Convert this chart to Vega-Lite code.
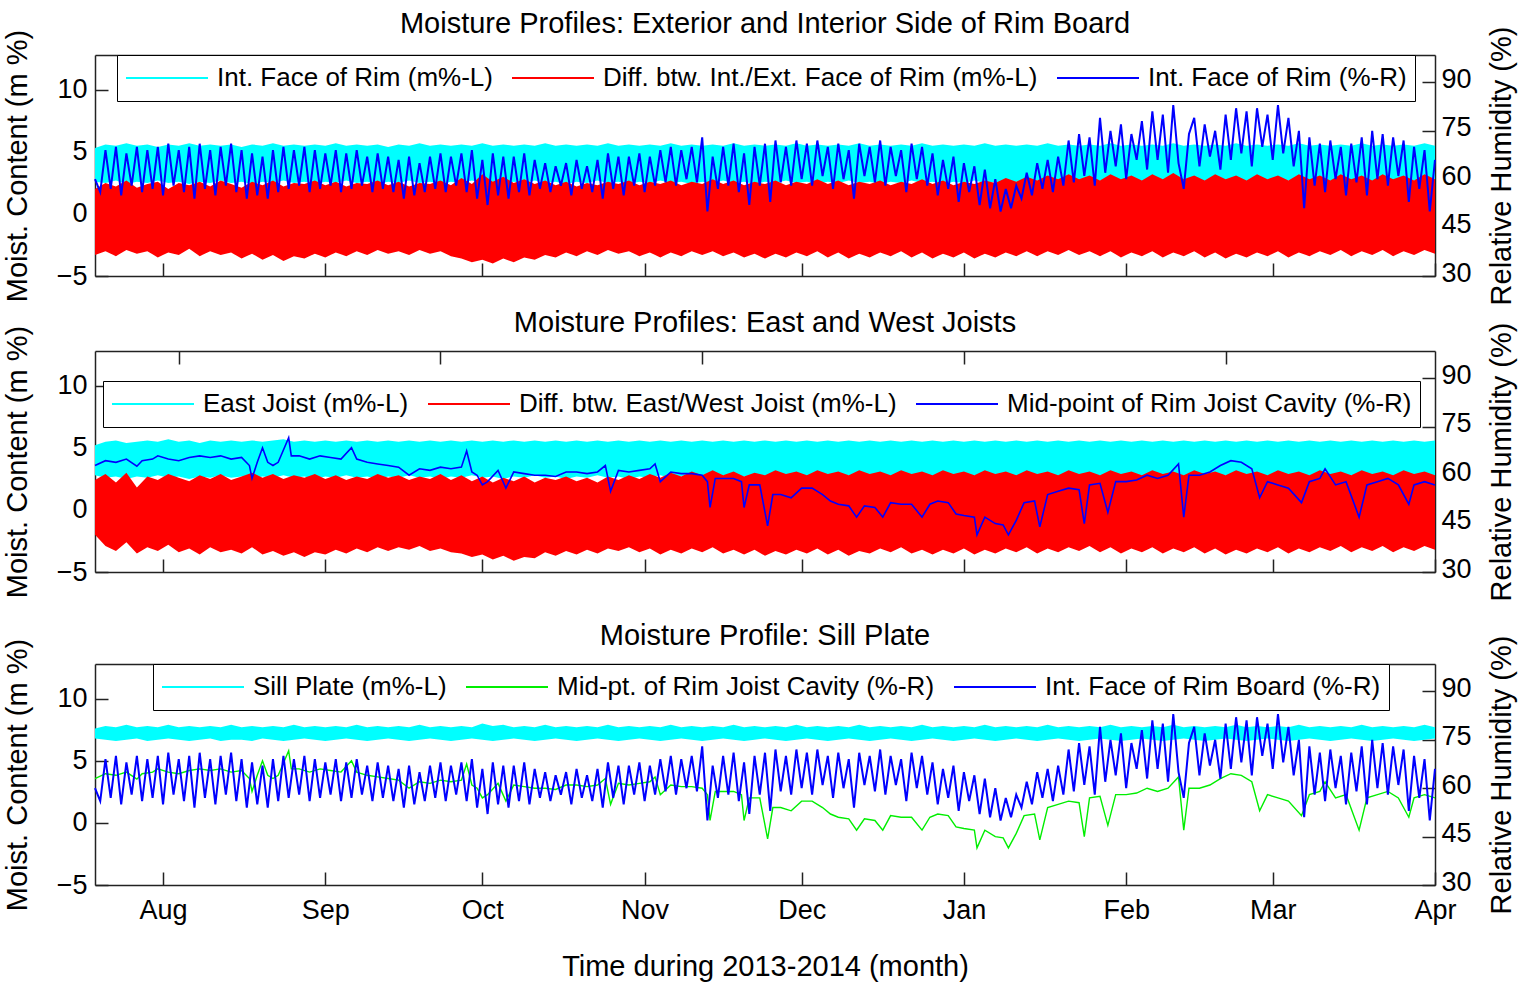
{
"$schema": "https://vega.github.io/schema/vega-lite/v6.json",
"padding": {"left": 3, "top": 10, "right": 2, "bottom": 5},
"background": "white",
"config": {
  "font": "Liberation Sans",
  "view": {"stroke": null},
  "axis": {"labelFontSize": 27, "titleFontSize": 29, "titleFontWeight": "normal", "labelColor": "#000", "titleColor": "#000", "domainColor": "#222", "tickColor": "#222", "domainWidth": 1.5, "tickWidth": 1.5, "tickSize": -13, "grid": false, "labelFlush": false, "labelOverlap": false},
  "title": {"fontSize": 29, "fontWeight": "normal", "color": "#000", "anchor": "middle", "frame": "group"},
  "legend": {"orient": "none", "direction": "horizontal", "columns": 3, "symbolType": "stroke", "symbolSize": 6724, "symbolStrokeWidth": 2, "clipHeight": 30, "labelFontSize": 26, "labelColor": "#000", "labelOffset": 8, "columnPadding": 18, "padding": 8, "strokeColor": "#000", "fillColor": "#fff", "labelLimit": 0}
},
"datasets": {
"band": [
{"d":0,"a":2.6,"b":5.3,"c":-3.3,"e":2.0,"f":2.8,"g":5.2,"h":-2.0,"i":2.4,"j":6.8,"k":7.6},
{"d":2,"a":2.5,"b":5.6,"c":-3.0,"e":2.5,"f":2.6,"g":5.5,"h":-2.9,"i":2.9,"j":6.7,"k":7.8},
{"d":4,"a":2.7,"b":5.5,"c":-3.4,"e":2.2,"f":2.7,"g":5.6,"h":-3.3,"i":2.2,"j":6.6,"k":7.7},
{"d":6,"a":2.4,"b":5.7,"c":-2.9,"e":2.7,"f":2.5,"g":5.4,"h":-2.6,"i":3.0,"j":6.7,"k":7.9},
{"d":8,"a":2.6,"b":5.5,"c":-3.2,"e":2.1,"f":2.7,"g":5.5,"h":-3.5,"i":1.8,"j":6.8,"k":7.7},
{"d":10,"a":2.5,"b":5.6,"c":-3.0,"e":2.4,"f":2.6,"g":5.6,"h":-3.0,"i":2.7,"j":6.6,"k":7.8},
{"d":12,"a":2.7,"b":5.4,"c":-3.5,"e":2.6,"f":2.8,"g":5.5,"h":-3.3,"i":2.4,"j":6.7,"k":7.7},
{"d":14,"a":2.5,"b":5.6,"c":-3.1,"e":2.0,"f":2.6,"g":5.7,"h":-2.8,"i":2.9,"j":6.8,"k":7.9},
{"d":16,"a":2.6,"b":5.5,"c":-3.3,"e":2.5,"f":2.7,"g":5.5,"h":-3.4,"i":2.6,"j":6.7,"k":7.7},
{"d":18,"a":2.4,"b":5.7,"c":-2.8,"e":2.3,"f":2.5,"g":5.6,"h":-3.1,"i":2.3,"j":6.6,"k":7.8},
{"d":20,"a":2.6,"b":5.5,"c":-3.4,"e":2.6,"f":2.7,"g":5.4,"h":-3.6,"i":2.8,"j":6.7,"k":7.7},
{"d":22,"a":2.5,"b":5.6,"c":-3.0,"e":2.2,"f":2.6,"g":5.6,"h":-3.0,"i":2.5,"j":6.8,"k":7.8},
{"d":24,"a":2.7,"b":5.5,"c":-3.3,"e":2.7,"f":2.8,"g":5.5,"h":-3.4,"i":2.9,"j":6.6,"k":7.7},
{"d":26,"a":2.5,"b":5.6,"c":-3.1,"e":2.4,"f":2.6,"g":5.6,"h":-3.2,"i":2.4,"j":6.7,"k":7.9},
{"d":28,"a":2.6,"b":5.4,"c":-3.6,"e":2.1,"f":2.7,"g":5.5,"h":-3.5,"i":2.7,"j":6.7,"k":7.7},
{"d":30,"a":2.4,"b":5.6,"c":-3.2,"e":2.6,"f":2.5,"g":5.6,"h":-3.0,"i":3.0,"j":6.6,"k":7.8},
{"d":32,"a":2.6,"b":5.5,"c":-3.7,"e":2.3,"f":2.7,"g":5.5,"h":-3.6,"i":2.6,"j":6.8,"k":7.7},
{"d":34,"a":2.5,"b":5.7,"c":-3.3,"e":2.7,"f":2.6,"g":5.6,"h":-3.3,"i":2.9,"j":6.7,"k":7.8},
{"d":36,"a":2.7,"b":5.5,"c":-3.8,"e":2.2,"f":2.8,"g":5.7,"h":-3.7,"i":2.5,"j":6.6,"k":7.7},
{"d":38,"a":2.5,"b":5.6,"c":-3.4,"e":2.5,"f":2.6,"g":5.5,"h":-3.4,"i":2.8,"j":6.7,"k":7.9},
{"d":40,"a":2.6,"b":5.5,"c":-3.6,"e":2.4,"f":2.7,"g":5.6,"h":-3.8,"i":2.6,"j":6.8,"k":7.7},
{"d":42,"a":2.4,"b":5.6,"c":-3.2,"e":2.7,"f":2.5,"g":5.5,"h":-3.4,"i":2.9,"j":6.7,"k":7.8},
{"d":44,"a":2.6,"b":5.5,"c":-3.5,"e":2.3,"f":2.7,"g":5.6,"h":-3.6,"i":2.5,"j":6.6,"k":7.7},
{"d":46,"a":2.5,"b":5.7,"c":-3.1,"e":2.6,"f":2.6,"g":5.5,"h":-3.2,"i":2.8,"j":6.7,"k":7.8},
{"d":48,"a":2.7,"b":5.5,"c":-3.4,"e":2.2,"f":2.8,"g":5.6,"h":-3.5,"i":2.4,"j":6.8,"k":7.7},
{"d":50,"a":2.5,"b":5.6,"c":-3.0,"e":2.5,"f":2.6,"g":5.5,"h":-3.1,"i":2.7,"j":6.7,"k":7.9},
{"d":52,"a":2.6,"b":5.5,"c":-3.3,"e":2.4,"f":2.7,"g":5.6,"h":-3.4,"i":2.5,"j":6.6,"k":7.7},
{"d":54,"a":2.4,"b":5.6,"c":-2.9,"e":2.7,"f":2.5,"g":5.5,"h":-3.0,"i":2.9,"j":6.7,"k":7.8},
{"d":56,"a":2.6,"b":5.4,"c":-3.2,"e":2.3,"f":2.7,"g":5.6,"h":-3.3,"i":2.6,"j":6.8,"k":7.7},
{"d":58,"a":2.5,"b":5.6,"c":-3.0,"e":2.6,"f":2.6,"g":5.5,"h":-3.0,"i":2.8,"j":6.7,"k":7.8},
{"d":60,"a":2.7,"b":5.5,"c":-3.3,"e":2.2,"f":2.8,"g":5.6,"h":-3.2,"i":2.4,"j":6.6,"k":7.7},
{"d":62,"a":2.5,"b":5.7,"c":-2.9,"e":2.5,"f":2.6,"g":5.5,"h":-2.9,"i":2.7,"j":6.7,"k":7.9},
{"d":64,"a":2.6,"b":5.5,"c":-3.2,"e":2.4,"f":2.7,"g":5.6,"h":-3.3,"i":2.5,"j":6.8,"k":7.7},
{"d":66,"a":2.4,"b":5.6,"c":-3.0,"e":2.7,"f":2.5,"g":5.5,"h":-3.1,"i":2.9,"j":6.7,"k":7.8},
{"d":68,"a":2.6,"b":5.5,"c":-3.4,"e":2.3,"f":2.7,"g":5.6,"h":-3.4,"i":2.4,"j":6.6,"k":7.7},
{"d":70,"a":2.5,"b":5.6,"c":-3.6,"e":2.9,"f":2.6,"g":5.5,"h":-3.5,"i":2.8,"j":6.7,"k":7.8},
{"d":72,"a":2.7,"b":5.5,"c":-3.9,"e":2.4,"f":2.8,"g":5.6,"h":-3.8,"i":2.3,"j":6.8,"k":7.7},
{"d":74,"a":2.5,"b":5.7,"c":-3.7,"e":3.2,"f":2.6,"g":5.5,"h":-3.6,"i":2.7,"j":6.7,"k":8.0},
{"d":76,"a":2.6,"b":5.5,"c":-4.0,"e":2.6,"f":2.7,"g":5.6,"h":-4.0,"i":2.2,"j":6.6,"k":7.8},
{"d":78,"a":2.4,"b":5.6,"c":-3.6,"e":3.0,"f":2.5,"g":5.5,"h":-3.7,"i":2.6,"j":6.7,"k":7.9},
{"d":80,"a":2.6,"b":5.5,"c":-3.9,"e":2.5,"f":2.7,"g":5.6,"h":-4.1,"i":2.3,"j":6.8,"k":7.7},
{"d":82,"a":2.5,"b":5.6,"c":-3.5,"e":2.8,"f":2.6,"g":5.5,"h":-3.8,"i":2.7,"j":6.7,"k":7.8},
{"d":84,"a":2.7,"b":5.5,"c":-3.7,"e":2.4,"f":2.8,"g":5.6,"h":-3.9,"i":2.2,"j":6.6,"k":7.7},
{"d":86,"a":2.5,"b":5.7,"c":-3.3,"e":2.7,"f":2.6,"g":5.5,"h":-3.4,"i":2.6,"j":6.7,"k":7.9},
{"d":88,"a":2.6,"b":5.5,"c":-3.5,"e":2.3,"f":2.7,"g":5.6,"h":-3.7,"i":2.4,"j":6.8,"k":7.7},
{"d":90,"a":2.4,"b":5.6,"c":-3.1,"e":2.6,"f":2.5,"g":5.5,"h":-3.3,"i":2.7,"j":6.7,"k":7.8},
{"d":92,"a":2.6,"b":5.5,"c":-3.4,"e":2.2,"f":2.7,"g":5.6,"h":-3.6,"i":2.3,"j":6.6,"k":7.7},
{"d":94,"a":2.5,"b":5.6,"c":-3.0,"e":2.5,"f":2.6,"g":5.5,"h":-3.2,"i":2.6,"j":6.7,"k":7.8},
{"d":96,"a":2.7,"b":5.5,"c":-3.3,"e":2.3,"f":2.8,"g":5.6,"h":-3.5,"i":2.2,"j":6.8,"k":7.7},
{"d":98,"a":2.5,"b":5.7,"c":-2.9,"e":2.6,"f":2.6,"g":5.5,"h":-3.1,"i":2.7,"j":6.7,"k":7.9},
{"d":100,"a":2.6,"b":5.5,"c":-3.2,"e":2.4,"f":2.7,"g":5.6,"h":-3.3,"i":2.4,"j":6.6,"k":7.7},
{"d":102,"a":2.4,"b":5.6,"c":-3.0,"e":2.7,"f":2.5,"g":5.5,"h":-3.0,"i":2.8,"j":6.7,"k":7.8},
{"d":104,"a":2.6,"b":5.5,"c":-3.4,"e":2.3,"f":2.7,"g":5.6,"h":-3.4,"i":2.5,"j":6.8,"k":7.7},
{"d":106,"a":2.5,"b":5.6,"c":-3.1,"e":2.6,"f":2.6,"g":5.5,"h":-3.1,"i":2.9,"j":6.7,"k":7.8},
{"d":108,"a":2.7,"b":5.5,"c":-3.5,"e":2.4,"f":2.8,"g":5.6,"h":-3.6,"i":2.6,"j":6.6,"k":7.7},
{"d":110,"a":2.5,"b":5.7,"c":-3.1,"e":2.7,"f":2.6,"g":5.5,"h":-3.2,"i":3.0,"j":6.7,"k":7.9},
{"d":112,"a":2.6,"b":5.5,"c":-3.4,"e":2.3,"f":2.7,"g":5.6,"h":-3.5,"i":2.7,"j":6.8,"k":7.7},
{"d":114,"a":2.4,"b":5.6,"c":-3.0,"e":2.6,"f":2.5,"g":5.5,"h":-3.1,"i":3.1,"j":6.7,"k":7.8},
{"d":116,"a":2.6,"b":5.5,"c":-3.3,"e":2.4,"f":2.7,"g":5.6,"h":-3.4,"i":2.8,"j":6.6,"k":7.7},
{"d":118,"a":2.5,"b":5.6,"c":-3.0,"e":2.8,"f":2.6,"g":5.5,"h":-3.0,"i":3.2,"j":6.7,"k":7.8},
{"d":120,"a":2.7,"b":5.5,"c":-3.4,"e":2.4,"f":2.8,"g":5.6,"h":-3.5,"i":2.8,"j":6.8,"k":7.7},
{"d":122,"a":2.5,"b":5.7,"c":-3.1,"e":2.7,"f":2.6,"g":5.5,"h":-3.2,"i":3.1,"j":6.7,"k":7.9},
{"d":124,"a":2.6,"b":5.5,"c":-3.5,"e":2.3,"f":2.7,"g":5.6,"h":-3.6,"i":2.7,"j":6.6,"k":7.7},
{"d":126,"a":2.4,"b":5.6,"c":-3.2,"e":2.6,"f":2.5,"g":5.5,"h":-3.2,"i":3.0,"j":6.7,"k":7.8},
{"d":128,"a":2.6,"b":5.5,"c":-3.6,"e":2.4,"f":2.7,"g":5.6,"h":-3.7,"i":2.8,"j":6.8,"k":7.7},
{"d":130,"a":2.5,"b":5.6,"c":-3.2,"e":2.7,"f":2.6,"g":5.5,"h":-3.3,"i":3.2,"j":6.7,"k":7.8},
{"d":132,"a":2.7,"b":5.5,"c":-3.5,"e":2.3,"f":2.8,"g":5.6,"h":-3.6,"i":2.9,"j":6.6,"k":7.7},
{"d":134,"a":2.5,"b":5.7,"c":-3.1,"e":2.6,"f":2.6,"g":5.5,"h":-3.2,"i":3.1,"j":6.7,"k":7.9},
{"d":136,"a":2.6,"b":5.5,"c":-3.4,"e":2.4,"f":2.7,"g":5.6,"h":-3.5,"i":2.8,"j":6.8,"k":7.7},
{"d":138,"a":2.4,"b":5.6,"c":-3.0,"e":2.8,"f":2.5,"g":5.5,"h":-3.1,"i":3.2,"j":6.7,"k":7.8},
{"d":140,"a":2.6,"b":5.5,"c":-3.5,"e":2.4,"f":2.7,"g":5.6,"h":-3.6,"i":2.9,"j":6.6,"k":7.7},
{"d":142,"a":2.5,"b":5.6,"c":-3.1,"e":2.7,"f":2.6,"g":5.5,"h":-3.2,"i":3.1,"j":6.7,"k":7.8},
{"d":144,"a":2.7,"b":5.5,"c":-3.6,"e":2.3,"f":2.8,"g":5.6,"h":-3.7,"i":2.8,"j":6.8,"k":7.7},
{"d":146,"a":2.5,"b":5.7,"c":-3.2,"e":2.6,"f":2.6,"g":5.5,"h":-3.3,"i":3.2,"j":6.7,"k":7.9},
{"d":148,"a":2.6,"b":5.5,"c":-3.5,"e":2.4,"f":2.7,"g":5.6,"h":-3.5,"i":2.9,"j":6.6,"k":7.7},
{"d":150,"a":2.4,"b":5.6,"c":-3.1,"e":2.7,"f":2.5,"g":5.5,"h":-3.1,"i":3.1,"j":6.7,"k":7.8},
{"d":152,"a":2.6,"b":5.5,"c":-3.4,"e":2.3,"f":2.7,"g":5.6,"h":-3.4,"i":2.8,"j":6.8,"k":7.7},
{"d":154,"a":2.5,"b":5.6,"c":-3.0,"e":2.6,"f":2.6,"g":5.5,"h":-3.0,"i":3.2,"j":6.7,"k":7.8},
{"d":156,"a":2.7,"b":5.5,"c":-3.5,"e":2.4,"f":2.8,"g":5.6,"h":-3.5,"i":2.9,"j":6.6,"k":7.7},
{"d":158,"a":2.5,"b":5.7,"c":-3.1,"e":2.8,"f":2.6,"g":5.5,"h":-3.2,"i":3.1,"j":6.7,"k":7.9},
{"d":160,"a":2.6,"b":5.5,"c":-3.6,"e":2.4,"f":2.7,"g":5.6,"h":-3.6,"i":2.8,"j":6.8,"k":7.7},
{"d":162,"a":2.4,"b":5.6,"c":-3.2,"e":2.7,"f":2.5,"g":5.5,"h":-3.2,"i":3.2,"j":6.7,"k":7.8},
{"d":164,"a":2.6,"b":5.5,"c":-3.5,"e":2.3,"f":2.7,"g":5.6,"h":-3.5,"i":2.9,"j":6.6,"k":7.7},
{"d":166,"a":2.5,"b":5.6,"c":-3.1,"e":2.6,"f":2.6,"g":5.5,"h":-3.1,"i":3.1,"j":6.7,"k":7.8},
{"d":168,"a":2.7,"b":5.5,"c":-3.6,"e":2.4,"f":2.8,"g":5.6,"h":-3.6,"i":2.8,"j":6.8,"k":7.7},
{"d":170,"a":2.5,"b":5.7,"c":-3.2,"e":2.7,"f":2.6,"g":5.5,"h":-3.2,"i":3.2,"j":6.7,"k":7.9},
{"d":172,"a":2.6,"b":5.5,"c":-3.5,"e":2.5,"f":2.7,"g":5.6,"h":-3.5,"i":2.9,"j":6.6,"k":7.7},
{"d":174,"a":2.4,"b":5.6,"c":-3.1,"e":2.9,"f":2.5,"g":5.5,"h":-3.1,"i":3.1,"j":6.7,"k":7.8},
{"d":176,"a":2.6,"b":5.5,"c":-3.4,"e":2.6,"f":2.7,"g":5.6,"h":-3.4,"i":2.8,"j":6.8,"k":7.7},
{"d":178,"a":2.5,"b":5.6,"c":-3.0,"e":3.0,"f":2.6,"g":5.5,"h":-3.0,"i":3.2,"j":6.7,"k":7.8},
{"d":180,"a":2.7,"b":5.5,"c":-3.4,"e":2.7,"f":2.8,"g":5.6,"h":-3.5,"i":2.9,"j":6.6,"k":7.7},
{"d":182,"a":2.5,"b":5.7,"c":-3.0,"e":3.1,"f":2.6,"g":5.5,"h":-3.1,"i":3.1,"j":6.7,"k":7.9},
{"d":184,"a":2.6,"b":5.5,"c":-3.3,"e":2.8,"f":2.7,"g":5.6,"h":-3.4,"i":2.8,"j":6.8,"k":7.7},
{"d":186,"a":2.4,"b":5.6,"c":-2.9,"e":3.2,"f":2.5,"g":5.5,"h":-3.0,"i":3.2,"j":6.7,"k":7.8},
{"d":188,"a":2.6,"b":5.5,"c":-3.3,"e":2.8,"f":2.7,"g":5.6,"h":-3.3,"i":2.9,"j":6.6,"k":7.7},
{"d":190,"a":2.5,"b":5.6,"c":-3.0,"e":3.1,"f":2.6,"g":5.5,"h":-2.9,"i":3.1,"j":6.7,"k":7.8},
{"d":192,"a":2.7,"b":5.5,"c":-3.4,"e":2.7,"f":2.8,"g":5.6,"h":-3.4,"i":2.8,"j":6.8,"k":7.7},
{"d":194,"a":2.5,"b":5.7,"c":-3.0,"e":3.2,"f":2.6,"g":5.5,"h":-3.0,"i":3.2,"j":6.7,"k":7.9},
{"d":196,"a":2.6,"b":5.5,"c":-3.5,"e":2.8,"f":2.7,"g":5.6,"h":-3.5,"i":2.9,"j":6.6,"k":7.7},
{"d":198,"a":2.4,"b":5.6,"c":-3.1,"e":3.1,"f":2.5,"g":5.5,"h":-3.1,"i":3.1,"j":6.7,"k":7.8},
{"d":200,"a":2.6,"b":5.5,"c":-3.4,"e":2.7,"f":2.7,"g":5.6,"h":-3.4,"i":2.8,"j":6.8,"k":7.7},
{"d":202,"a":2.5,"b":5.6,"c":-3.0,"e":3.2,"f":2.6,"g":5.5,"h":-3.0,"i":3.2,"j":6.7,"k":7.8},
{"d":204,"a":2.7,"b":5.5,"c":-3.5,"e":2.8,"f":2.8,"g":5.6,"h":-3.5,"i":2.9,"j":6.6,"k":7.7},
{"d":206,"a":2.5,"b":5.7,"c":-3.1,"e":3.3,"f":2.6,"g":5.5,"h":-3.1,"i":3.1,"j":6.7,"k":7.9},
{"d":208,"a":2.6,"b":5.5,"c":-3.4,"e":2.8,"f":2.7,"g":5.6,"h":-3.4,"i":2.8,"j":6.8,"k":7.7},
{"d":210,"a":2.4,"b":5.6,"c":-3.0,"e":3.1,"f":2.5,"g":5.5,"h":-3.0,"i":3.2,"j":6.7,"k":7.8},
{"d":212,"a":2.6,"b":5.5,"c":-3.5,"e":2.7,"f":2.7,"g":5.6,"h":-3.5,"i":2.9,"j":6.6,"k":7.7},
{"d":214,"a":2.5,"b":5.6,"c":-3.1,"e":3.2,"f":2.6,"g":5.5,"h":-3.1,"i":3.1,"j":6.7,"k":7.8},
{"d":216,"a":2.7,"b":5.5,"c":-3.6,"e":2.8,"f":2.8,"g":5.6,"h":-3.6,"i":2.8,"j":6.8,"k":7.7},
{"d":218,"a":2.5,"b":5.7,"c":-3.2,"e":3.1,"f":2.6,"g":5.5,"h":-3.2,"i":3.2,"j":6.7,"k":7.9},
{"d":220,"a":2.6,"b":5.5,"c":-3.5,"e":2.7,"f":2.7,"g":5.6,"h":-3.5,"i":2.9,"j":6.6,"k":7.7},
{"d":222,"a":2.4,"b":5.6,"c":-3.1,"e":3.2,"f":2.5,"g":5.5,"h":-3.1,"i":3.1,"j":6.7,"k":7.8},
{"d":224,"a":2.6,"b":5.5,"c":-3.4,"e":2.8,"f":2.7,"g":5.6,"h":-3.4,"i":2.8,"j":6.8,"k":7.7},
{"d":226,"a":2.5,"b":5.6,"c":-3.0,"e":3.1,"f":2.6,"g":5.5,"h":-3.0,"i":3.2,"j":6.7,"k":7.8},
{"d":228,"a":2.7,"b":5.5,"c":-3.5,"e":2.7,"f":2.8,"g":5.6,"h":-3.5,"i":2.9,"j":6.6,"k":7.7},
{"d":230,"a":2.5,"b":5.7,"c":-3.1,"e":3.2,"f":2.6,"g":5.5,"h":-3.1,"i":3.1,"j":6.7,"k":7.9},
{"d":232,"a":2.6,"b":5.5,"c":-3.4,"e":2.8,"f":2.7,"g":5.6,"h":-3.4,"i":2.8,"j":6.8,"k":7.7},
{"d":234,"a":2.4,"b":5.6,"c":-3.0,"e":3.1,"f":2.5,"g":5.5,"h":-3.0,"i":3.2,"j":6.7,"k":7.8},
{"d":236,"a":2.6,"b":5.5,"c":-3.3,"e":2.7,"f":2.7,"g":5.6,"h":-3.3,"i":2.9,"j":6.6,"k":7.7},
{"d":238,"a":2.5,"b":5.6,"c":-2.9,"e":3.2,"f":2.6,"g":5.5,"h":-2.9,"i":3.1,"j":6.7,"k":7.8},
{"d":240,"a":2.7,"b":5.5,"c":-3.4,"e":2.8,"f":2.8,"g":5.6,"h":-3.4,"i":2.8,"j":6.8,"k":7.7},
{"d":242,"a":2.5,"b":5.7,"c":-3.0,"e":3.1,"f":2.6,"g":5.5,"h":-3.0,"i":3.2,"j":6.7,"k":7.9},
{"d":244,"a":2.6,"b":5.5,"c":-3.3,"e":2.7,"f":2.7,"g":5.6,"h":-3.3,"i":2.9,"j":6.6,"k":7.7},
{"d":246,"a":2.4,"b":5.6,"c":-2.9,"e":3.2,"f":2.5,"g":5.5,"h":-2.9,"i":3.1,"j":6.7,"k":7.8},
{"d":248,"a":2.6,"b":5.5,"c":-3.4,"e":2.8,"f":2.7,"g":5.6,"h":-3.4,"i":2.8,"j":6.8,"k":7.7},
{"d":250,"a":2.5,"b":5.6,"c":-3.0,"e":3.1,"f":2.6,"g":5.5,"h":-3.0,"i":3.2,"j":6.7,"k":7.8},
{"d":252,"a":2.7,"b":5.5,"c":-3.3,"e":2.7,"f":2.8,"g":5.6,"h":-3.3,"i":2.9,"j":6.6,"k":7.7},
{"d":254,"a":2.5,"b":5.7,"c":-2.9,"e":3.2,"f":2.6,"g":5.5,"h":-2.9,"i":3.1,"j":6.7,"k":7.9},
{"d":256,"a":2.6,"b":5.5,"c":-3.2,"e":2.8,"f":2.7,"g":5.6,"h":-3.2,"i":2.8,"j":6.8,"k":7.7}
],
"rim": [
{"d":0,"v":60},{"d":1,"v":56},{"d":2,"v":69},{"d":3,"v":57},{"d":4,"v":70},{"d":5,"v":55},{"d":6,"v":68},{"d":7,"v":58},{"d":8,"v":70},{"d":9,"v":56},
{"d":10,"v":69},{"d":11,"v":57},{"d":12,"v":70},{"d":13,"v":55},{"d":14,"v":71},{"d":15,"v":58},{"d":16,"v":69},{"d":17,"v":56},{"d":18,"v":70},{"d":19,"v":54},
{"d":20,"v":71},{"d":21,"v":57},{"d":22,"v":69},{"d":23,"v":55},{"d":24,"v":70},{"d":25,"v":58},{"d":26,"v":71},{"d":27,"v":56},{"d":28,"v":69},{"d":29,"v":54},
{"d":30,"v":68},{"d":31,"v":55},{"d":32,"v":67},{"d":33,"v":54},{"d":34,"v":69},{"d":35,"v":56},{"d":36,"v":70},{"d":37,"v":57},{"d":38,"v":69},{"d":39,"v":58},
{"d":40,"v":70},{"d":41,"v":56},{"d":42,"v":69},{"d":43,"v":57},{"d":44,"v":68},{"d":45,"v":58},{"d":46,"v":69},{"d":47,"v":56},{"d":48,"v":68},{"d":49,"v":57},
{"d":50,"v":69},{"d":51,"v":58},{"d":52,"v":67},{"d":53,"v":56},{"d":54,"v":68},{"d":55,"v":57},{"d":56,"v":67},{"d":57,"v":56},{"d":58,"v":66},{"d":59,"v":54},
{"d":60,"v":67},{"d":61,"v":55},{"d":62,"v":65},{"d":63,"v":56},{"d":64,"v":67},{"d":65,"v":57},{"d":66,"v":68},{"d":67,"v":56},{"d":68,"v":67},{"d":69,"v":58},
{"d":70,"v":68},{"d":71,"v":56},{"d":72,"v":69},{"d":73,"v":54},{"d":74,"v":66},{"d":75,"v":52},{"d":76,"v":68},{"d":77,"v":55},{"d":78,"v":67},{"d":79,"v":54},
{"d":80,"v":67},{"d":81,"v":56},{"d":82,"v":68},{"d":83,"v":55},{"d":84,"v":66},{"d":85,"v":57},{"d":86,"v":65},{"d":87,"v":56},{"d":88,"v":64},{"d":89,"v":58},
{"d":90,"v":65},{"d":91,"v":55},{"d":92,"v":66},{"d":93,"v":57},{"d":94,"v":64},{"d":95,"v":56},{"d":96,"v":66},{"d":97,"v":54},{"d":98,"v":68},{"d":99,"v":57},
{"d":100,"v":67},{"d":101,"v":55},{"d":102,"v":67},{"d":103,"v":58},{"d":104,"v":68},{"d":105,"v":56},{"d":106,"v":67},{"d":107,"v":58},{"d":108,"v":69},{"d":109,"v":59},
{"d":110,"v":70},{"d":111,"v":58},{"d":112,"v":69},{"d":113,"v":60},{"d":114,"v":70},{"d":115,"v":59},{"d":116,"v":73},{"d":117,"v":50},{"d":118,"v":67},{"d":119,"v":57},
{"d":120,"v":70},{"d":121,"v":58},{"d":122,"v":71},{"d":123,"v":56},{"d":124,"v":68},{"d":125,"v":52},{"d":126,"v":70},{"d":127,"v":58},{"d":128,"v":71},{"d":129,"v":53},
{"d":130,"v":72},{"d":131,"v":59},{"d":132,"v":70},{"d":133,"v":58},{"d":134,"v":72},{"d":135,"v":60},{"d":136,"v":71},{"d":137,"v":58},{"d":138,"v":72},{"d":139,"v":61},
{"d":140,"v":70},{"d":141,"v":57},{"d":142,"v":71},{"d":143,"v":60},{"d":144,"v":69},{"d":145,"v":54},{"d":146,"v":71},{"d":147,"v":61},{"d":148,"v":70},{"d":149,"v":59},
{"d":150,"v":72},{"d":151,"v":58},{"d":152,"v":70},{"d":153,"v":61},{"d":154,"v":69},{"d":155,"v":56},{"d":156,"v":71},{"d":157,"v":60},{"d":158,"v":70},{"d":159,"v":58},
{"d":160,"v":68},{"d":161,"v":55},{"d":162,"v":66},{"d":163,"v":57},{"d":164,"v":67},{"d":165,"v":53},{"d":166,"v":65},{"d":167,"v":56},{"d":168,"v":64},{"d":169,"v":52},
{"d":170,"v":63},{"d":171,"v":51},{"d":172,"v":60},{"d":173,"v":50},{"d":174,"v":57},{"d":175,"v":51},{"d":176,"v":58},{"d":177,"v":54},{"d":178,"v":62},{"d":179,"v":55},
{"d":180,"v":65},{"d":181,"v":57},{"d":182,"v":66},{"d":183,"v":56},{"d":184,"v":67},{"d":185,"v":58},{"d":186,"v":72},{"d":187,"v":59},{"d":188,"v":74},{"d":189,"v":61},
{"d":190,"v":73},{"d":191,"v":58},{"d":192,"v":79},{"d":193,"v":62},{"d":194,"v":75},{"d":195,"v":64},{"d":196,"v":77},{"d":197,"v":60},{"d":198,"v":74},{"d":199,"v":66},
{"d":200,"v":78},{"d":201,"v":63},{"d":202,"v":81},{"d":203,"v":66},{"d":204,"v":80},{"d":205,"v":62},{"d":206,"v":83},{"d":207,"v":65},{"d":208,"v":57},{"d":209,"v":74},
{"d":210,"v":79},{"d":211,"v":64},{"d":212,"v":77},{"d":213,"v":67},{"d":214,"v":75},{"d":215,"v":63},{"d":216,"v":80},{"d":217,"v":66},{"d":218,"v":82},{"d":219,"v":68},
{"d":220,"v":81},{"d":221,"v":64},{"d":222,"v":82},{"d":223,"v":70},{"d":224,"v":80},{"d":225,"v":66},{"d":226,"v":83},{"d":227,"v":68},{"d":228,"v":79},{"d":229,"v":64},
{"d":230,"v":75},{"d":231,"v":51},{"d":232,"v":73},{"d":233,"v":58},{"d":234,"v":71},{"d":235,"v":56},{"d":236,"v":72},{"d":237,"v":60},{"d":238,"v":70},{"d":239,"v":55},
{"d":240,"v":71},{"d":241,"v":59},{"d":242,"v":73},{"d":243,"v":55},{"d":244,"v":75},{"d":245,"v":60},{"d":246,"v":74},{"d":247,"v":58},{"d":248,"v":73},{"d":249,"v":61},
{"d":250,"v":72},{"d":251,"v":53},{"d":252,"v":70},{"d":253,"v":57},{"d":254,"v":69},{"d":255,"v":50},{"d":256,"v":66}
],
"mid": [
{"d":0,"v":63},{"d":2,"v":64.5},{"d":4,"v":64},{"d":6,"v":65},{"d":8,"v":62.8},{"d":9,"v":64.5},{"d":11,"v":65},{"d":12,"v":66},{"d":14,"v":65},{"d":16,"v":64.5},
{"d":18,"v":65.5},{"d":20,"v":66},{"d":22,"v":65.5},{"d":24,"v":66},{"d":26,"v":65},{"d":28,"v":65.5},{"d":29.5,"v":63},{"d":30,"v":59},{"d":31,"v":64},{"d":32,"v":68.5},
{"d":33,"v":64},{"d":34,"v":63},{"d":35,"v":64},{"d":37,"v":71.6},{"d":37.5,"v":66},{"d":39,"v":66},{"d":41,"v":65},{"d":43,"v":66},{"d":45,"v":65.5},{"d":47,"v":65},
{"d":49,"v":68.5},{"d":50,"v":65},{"d":52,"v":64},{"d":54,"v":63.5},{"d":56,"v":63},{"d":58,"v":62.5},{"d":60,"v":60},{"d":62,"v":62},{"d":64,"v":61.5},{"d":66,"v":62.5},
{"d":68,"v":62},{"d":70,"v":62.5},{"d":71,"v":67.5},{"d":72,"v":61},{"d":73,"v":60},{"d":74,"v":57},{"d":75,"v":58},{"d":77,"v":61.5},{"d":78.5,"v":56},{"d":80,"v":61},
{"d":82,"v":60.5},{"d":84,"v":60},{"d":86,"v":60},{"d":88,"v":59.6},{"d":90,"v":61},{"d":92,"v":61},{"d":94,"v":60.5},{"d":96,"v":61},{"d":97.5,"v":63},{"d":98.5,"v":55},
{"d":100,"v":61.5},{"d":102,"v":61},{"d":104,"v":61.5},{"d":106,"v":62},{"d":107,"v":63.5},{"d":108,"v":58},{"d":110,"v":61},{"d":112,"v":60.5},{"d":114,"v":60.5},{"d":116,"v":60},
{"d":117,"v":58},{"d":117.5,"v":50},{"d":118.5,"v":59},{"d":120,"v":59},{"d":122,"v":59},{"d":123.5,"v":58},{"d":124,"v":50},{"d":125,"v":57},{"d":127,"v":57},{"d":128.5,"v":44.3},
{"d":129.5,"v":54},{"d":131,"v":54},{"d":133,"v":53},{"d":135,"v":56},{"d":137,"v":56},{"d":139,"v":54},{"d":140.5,"v":52},{"d":142,"v":51},{"d":144,"v":50.5},{"d":145.5,"v":47},
{"d":147,"v":50.5},{"d":149,"v":50},{"d":150.5,"v":47},{"d":152,"v":51.5},{"d":154,"v":51},{"d":156,"v":51},{"d":158,"v":47},{"d":159.5,"v":51},{"d":161,"v":52},{"d":163,"v":51.5},
{"d":164.5,"v":48},{"d":166,"v":47.5},{"d":168,"v":47},{"d":168.5,"v":41.5},{"d":170,"v":47},{"d":172,"v":45},{"d":173.5,"v":44.6},{"d":174.5,"v":41.5},{"d":176,"v":46},{"d":177.5,"v":51.5},
{"d":179.5,"v":52},{"d":180.5,"v":44},{"d":182,"v":54},{"d":184,"v":55},{"d":186,"v":56},{"d":188,"v":55.5},{"d":189,"v":45},{"d":190,"v":57},{"d":192,"v":57.5},{"d":193.5,"v":48.5},
{"d":195,"v":58},{"d":197,"v":58},{"d":199,"v":58.5},{"d":201,"v":60},{"d":203,"v":59},{"d":205,"v":60},{"d":207,"v":63.5},{"d":208,"v":47},{"d":209,"v":60},{"d":211,"v":60},
{"d":213,"v":61},{"d":215,"v":63},{"d":217,"v":64.5},{"d":219,"v":64},{"d":221,"v":62},{"d":222.5,"v":53},{"d":224,"v":58},{"d":226,"v":57},{"d":228,"v":56},{"d":230.5,"v":51.5},
{"d":232,"v":58},{"d":234,"v":59},{"d":235,"v":62},{"d":237,"v":57},{"d":239,"v":58},{"d":241.5,"v":47},{"d":243,"v":57},{"d":245,"v":58},{"d":247,"v":59},{"d":249,"v":57},
{"d":251,"v":51},{"d":252,"v":57},{"d":254,"v":58},{"d":256,"v":57}
]
},
"bounds": "flush",
"spacing": 75,
"resolve": {"scale": {"color": "independent"}},
"vconcat": [
{
  "width": 1340, "height": 221,
  "title": {"text": "Moisture Profiles: Exterior and Interior Side of Rim Board", "offset": -13},
  "layer": [
    {"data": {"name": "band"}, "layer": [
      {"mark": {"type": "area", "color": "#00ffff"}, "encoding": {
        "x": {"field": "d", "type": "quantitative", "scale": {"domain": [0, 256], "nice": false, "zero": false}, "axis": {"orient": "bottom", "values": [13,44,74,105,135,166,197,225,256], "labels": false, "title": null}},
        "y": {"field": "a", "type": "quantitative", "scale": {"domain": [-5, 12.8], "nice": false, "zero": false}, "axis": {"orient": "left", "values": [-5,0,5,10], "title": "Moist. Content (m %)", "labelPadding": 21, "titlePadding": 24}},
        "y2": {"field": "b"}}},
      {"mark": {"type": "area", "color": "#ff0000"}, "encoding": {
        "x": {"field": "d", "type": "quantitative"},
        "y": {"field": "c", "type": "quantitative", "axis": {"title": "Moist. Content (m %)"}},
        "y2": {"field": "e"}}}
    ]},
    {"data": {"name": "rim"}, "mark": {"type": "line", "strokeWidth": 2}, "encoding": {
      "x": {"field": "d", "type": "quantitative", "axis": {"orient": "top", "values": [16,66,116,166,216], "labels": false, "title": null}},
      "y": {"field": "v", "type": "quantitative", "scale": {"domain": [30, 98.5], "nice": false, "zero": false}, "axis": {"orient": "right", "values": [30,45,60,75,90], "title": "Relative Humidity (%)", "titleAngle": 270, "titleBaseline": "top", "labelPadding": 19, "labelOffset": -3, "titlePadding": 16}},
      "color": {"datum": "Int. Face of Rim (%-R)", "scale": {"domain": ["Int. Face of Rim (m%-L)", "Diff. btw. Int./Ext. Face of Rim (m%-L)", "Int. Face of Rim (%-R)"], "range": ["#00ffff", "#ff0000", "#0000ff"]}, "legend": {"legendX": 22, "legendY": 0, "title": null}}}}
  ],
  "resolve": {"scale": {"y": "independent"}, "axis": {"x": "independent"}}
},
{
  "width": 1340, "height": 221,
  "title": {"text": "Moisture Profiles: East and West Joists", "offset": -16},
  "layer": [
    {"data": {"name": "band"}, "layer": [
      {"mark": {"type": "area", "color": "#00ffff"}, "encoding": {
        "x": {"field": "d", "type": "quantitative", "scale": {"domain": [0, 256], "nice": false, "zero": false}, "axis": {"orient": "bottom", "values": [13,44,74,105,135,166,197,225,256], "labels": false, "title": null}},
        "y": {"field": "f", "type": "quantitative", "scale": {"domain": [-5, 12.8], "nice": false, "zero": false}, "axis": {"orient": "left", "values": [-5,0,5,10], "title": "Moist. Content (m %)", "labelPadding": 21, "titlePadding": 24}},
        "y2": {"field": "g"}}},
      {"mark": {"type": "area", "color": "#ff0000"}, "encoding": {
        "x": {"field": "d", "type": "quantitative"},
        "y": {"field": "h", "type": "quantitative", "axis": {"title": "Moist. Content (m %)"}},
        "y2": {"field": "i"}}}
    ]},
    {"data": {"name": "mid"}, "mark": {"type": "line", "strokeWidth": 1.6}, "encoding": {
      "x": {"field": "d", "type": "quantitative", "axis": {"orient": "top", "values": [16,66,116,166,216], "labels": false, "title": null}},
      "y": {"field": "v", "type": "quantitative", "scale": {"domain": [30, 98.5], "nice": false, "zero": false}, "axis": {"orient": "right", "values": [30,45,60,75,90], "title": "Relative Humidity (%)", "titleAngle": 270, "titleBaseline": "top", "labelPadding": 19, "labelOffset": -3, "titlePadding": 16}},
      "color": {"datum": "Mid-point of Rim Joist Cavity (%-R)", "scale": {"domain": ["East Joist (m%-L)", "Diff. btw. East/West Joist (m%-L)", "Mid-point of Rim Joist Cavity (%-R)"], "range": ["#00ffff", "#ff0000", "#0000ff"]}, "legend": {"legendX": 8, "legendY": 30, "title": null}}}}
  ],
  "resolve": {"scale": {"y": "independent"}, "axis": {"x": "independent"}}
},
{
  "width": 1340, "height": 238,
  "title": {"text": "Moisture Profile: Sill Plate", "offset": -16},
  "layer": [
    {"data": {"name": "band"}, "mark": {"type": "area", "color": "#00ffff"}, "encoding": {
      "x": {"field": "d", "type": "quantitative", "scale": {"domain": [0, 256], "nice": false, "zero": false}, "axis": {"orient": "bottom", "values": [13,44,74,105,135,166,197,225,256], "labelExpr": "['Aug','Sep','Oct','Nov','Dec','Jan','Feb','Mar','Apr'][indexof([13,44,74,105,135,166,197,225,256], datum.value)]", "labelPadding": 25, "title": "Time during 2013-2014 (month)", "titlePadding": 29}},
      "y": {"field": "j", "type": "quantitative", "scale": {"domain": [-5, 12.8], "nice": false, "zero": false, "range": [238, 17]}, "axis": {"orient": "left", "values": [-5,0,5,10], "title": "Moist. Content (m %)", "labelPadding": 21, "titlePadding": 24}},
      "y2": {"field": "k"}}},
    {"layer": [
      {"data": {"name": "mid"}, "mark": {"type": "line", "strokeWidth": 1.4}, "encoding": {
        "x": {"field": "d", "type": "quantitative", "axis": {"orient": "top", "values": [16,66,116,166,216], "labels": false, "title": null, "offset": -17}},
        "y": {"field": "v", "type": "quantitative", "scale": {"domain": [30, 98.5], "nice": false, "zero": false, "range": [238, 17]}, "axis": {"orient": "right", "values": [30,45,60,75,90], "title": "Relative Humidity (%)", "titleAngle": 270, "titleBaseline": "top", "labelPadding": 19, "labelOffset": -3, "titlePadding": 16}},
        "color": {"datum": "Mid-pt. of Rim Joist Cavity (%-R)", "scale": {"domain": ["Sill Plate (m%-L)", "Mid-pt. of Rim Joist Cavity (%-R)", "Int. Face of Rim Board (%-R)"], "range": ["#00ffff", "#00ee00", "#0000ff"]}, "legend": {"legendX": 58, "legendY": 17, "title": null}}}},
      {"data": {"name": "rim"}, "mark": {"type": "line", "strokeWidth": 2}, "encoding": {
        "x": {"field": "d", "type": "quantitative"},
        "y": {"field": "v", "type": "quantitative", "axis": {"title": "Relative Humidity (%)"}},
        "color": {"datum": "Int. Face of Rim Board (%-R)"}}}
    ]}
  ],
  "resolve": {"scale": {"y": "independent"}, "axis": {"x": "independent"}}
}
]
}
